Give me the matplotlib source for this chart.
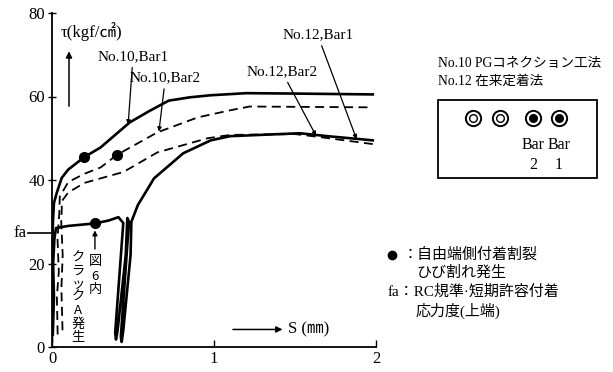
import matplotlib
matplotlib.use("Agg")
import matplotlib.pyplot as plt
from matplotlib.lines import Line2D
from matplotlib.patches import Rectangle

W, H = 613, 372
SERIF = "Liberation Serif"
JP = [SERIF, "Noto Sans CJK JP", "DejaVu Sans"]
JP_ONLY = ["Noto Sans CJK JP", "DejaVu Sans"]

# slip S (mm) / bond stress tau (kgf/cm2)
s_no10_bar1 = [0.0, 0.004, 0.0, 0.006, 0.012, 0.03, 0.06, 0.1, 0.2, 0.3, 0.48, 0.6,
               0.72, 0.85, 0.98, 1.2, 1.5, 1.98]
t_no10_bar1 = [1.5, 14, 22, 30, 34.5, 37, 40.5, 42.5, 45.5, 47.8, 53.8, 56.5,
               59, 59.8, 60.3, 60.8, 60.7, 60.5]

s_no10_bar2 = [0.035, 0.03, 0.042, 0.034, 0.045, 0.048, 0.1, 0.2, 0.3, 0.4, 0.65,
               0.9, 1.1, 1.22, 1.6, 1.98]
t_no10_bar2 = [3, 12, 18, 26, 32, 36, 39.5, 41.5, 43, 46, 51.4,
               55, 56.7, 57.6, 57.5, 57.4]

s_no12_bar1 = [0.005, 0.012, 0.007, 0.015, 0.025, 0.1, 0.265, 0.35, 0.41, 0.44,
               0.39, 0.395, 0.405, 0.455, 0.465, 0.475, 0.425, 0.43, 0.44, 0.485,
               0.49, 0.53, 0.63, 0.81, 0.98, 1.1, 1.53, 1.7, 1.98]
t_no12_bar1 = [3, 12, 20, 26, 28.5, 29, 29.6, 30.3, 31.1, 29.7,
               3.4, 1.8, 4, 22, 30.9, 30, 2.5, 1.2, 4, 22,
               30, 34, 40.4, 46.4, 49.5, 50.5, 51.2, 50.5, 49.5]

s_no12_bar2 = [0.065, 0.058, 0.066, 0.057, 0.062, 0.1, 0.2, 0.3, 0.44, 0.65,
               0.96, 1.1, 1.5, 1.63, 1.98]
t_no12_bar2 = [4, 14, 22, 30, 35, 37, 39.3, 40.4, 41.9, 46.6,
               50, 50.8, 51, 50.4, 48.6]

# splitting-crack onset points
s_crack = [0.2, 0.4, 0.265]
t_crack = [45.5, 46, 29.6]

fa_value = 27.3
y_ticks = [0, 20, 40, 60, 80]
x_ticks = [0, 1, 2]


def px(x, y):
    return x / W, 1 - y / H


fig = plt.figure(figsize=(W / 100, H / 100), dpi=100)
ax = fig.add_axes([52 / W, 1 - 347 / H, 324 / W, 334 / H])
ax.set_xlim(0, 2)
ax.set_ylim(0, 80)
for side in ("top", "right"):
    ax.spines[side].set_visible(False)
for side in ("left", "bottom"):
    ax.spines[side].set_linewidth(1.3)

ax.set_yticks(y_ticks)
ax.set_xticks(x_ticks)
ax.tick_params(axis="y", direction="inout", length=6, width=1, labelsize=12, pad=2)
ax.tick_params(axis="x", direction="in", length=5, width=1, labelsize=12, pad=3)
for lab in ax.get_xticklabels() + ax.get_yticklabels():
    lab.set_fontfamily(SERIF)

solid = dict(color="black", lw=1.9, solid_joinstyle="round")
dashed = dict(color="black", lw=1.3, dashes=(5, 3))
ax.plot(s_no10_bar1, t_no10_bar1, **solid)
ax.plot(s_no12_bar1, t_no12_bar1, **solid)
ax.plot(s_no10_bar2, t_no10_bar2, **dashed)
ax.plot(s_no12_bar2, t_no12_bar2, **dashed)
ax.plot(s_crack, t_crack, "o", color="black", ms=7, zorder=5)

# fa marker on the vertical axis
ax.plot([-0.15, 0], [fa_value, fa_value], color="black", lw=1.2, clip_on=False)
ax.text(-0.16, fa_value, "fa", ha="right", va="center", fontsize=12, family=SERIF)

# axis titles with arrows
ax.text(0.05, 75.5, "τ(kgf/㎠)", ha="left", va="center", fontsize=12, family=JP)
ax.annotate("", xy=(0.105, 71.5), xytext=(0.105, 57),
            arrowprops=dict(arrowstyle="-|>", color="black", lw=1.1, mutation_scale=9))
ax.annotate("", xy=(1.44, 4.2), xytext=(1.1, 4.2),
            arrowprops=dict(arrowstyle="-|>", color="black", lw=1.1, mutation_scale=9))
ax.text(1.455, 4.2, "S (㎜)", ha="left", va="center", fontsize=12, family=JP)

# curve labels with leaders
lead = dict(arrowstyle="-|>", color="black", lw=0.9, mutation_scale=6, shrinkA=1, shrinkB=0)
ax.annotate("No.10,Bar1", xy=(0.47, 53.3), xytext=(0.5, 69.5),
            ha="center", va="center", fontsize=11, family=SERIF, arrowprops=lead)
ax.annotate("No.10,Bar2", xy=(0.66, 51.6), xytext=(0.7, 64.4),
            ha="center", va="center", fontsize=11, family=SERIF, arrowprops=lead)
ax.annotate("No.12,Bar1", xy=(1.88, 49.8), xytext=(1.64, 74.7),
            ha="center", va="center", fontsize=11, family=SERIF, arrowprops=lead)
ax.annotate("No.12,Bar2", xy=(1.63, 50.6), xytext=(1.42, 65.9),
            ha="center", va="center", fontsize=11, family=SERIF, arrowprops=lead)

# vertical note under the crack point
ax.annotate("", xy=(0.265, 28.6), xytext=(0.265, 22.8),
            arrowprops=dict(arrowstyle="-|>", color="black", lw=1.0, mutation_scale=7))
col_right = ["図", "6", "内"]
col_left = ["ク", "ラ", "ッ", "ク", "A", "発", "生"]
for i, ch in enumerate(col_right):
    fig.text(*px(95, 262 + i * 14), ch, ha="center", va="center", fontsize=9.5,
             family=JP_ONLY)
for i, ch in enumerate(col_left):
    fig.text(*px(78, 258 + i * 13.2), ch, ha="center", va="center", fontsize=9.5,
             family=JP_ONLY)

# method names
fig.text(*px(438, 63), "No.10 PGコネクション工法", ha="left", va="center",
         fontsize=9.8, family=JP)
fig.text(*px(438, 81), "No.12 在来定着法", ha="left", va="center",
         fontsize=9.8, family=JP)

# bar arrangement box
box = Rectangle(px(438, 178), 159 / W, 78 / H, transform=fig.transFigure,
                fill=False, edgecolor="black", lw=1.3)
fig.add_artist(box)
for cx, filled in [(473, False), (500, False), (533, True), (559, True)]:
    fx, fy = px(cx, 118)
    fig.add_artist(Line2D([fx], [fy], marker="o", ms=11, mfc="white", mec="black",
                          mew=1.4, transform=fig.transFigure))
    fig.add_artist(Line2D([fx], [fy], marker="o", ms=5.5,
                          mfc="black" if filled else "white", mec="black",
                          mew=1.0, transform=fig.transFigure))
for cx, num in [(533, "2"), (559, "1")]:
    fig.text(*px(cx, 145), "Bar", ha="center", va="center", fontsize=11.5, family=SERIF)
    fig.text(*px(cx, 165), num, ha="center", va="center", fontsize=11.5, family=SERIF)

# symbol legend
fig.add_artist(Line2D([px(392, 0)[0]], [px(0, 255)[1]], marker="o", ms=6,
                      color="black", transform=fig.transFigure))
fig.text(*px(403, 255), "：自由端側付着割裂", ha="left", va="center",
         fontsize=10.8, family=JP)
fig.text(*px(416, 273), "ひび割れ発生", ha="left", va="center", fontsize=10.8, family=JP)
fig.text(*px(388, 292), "fa：RC規準·短期許容付着", ha="left", va="center",
         fontsize=10.8, family=JP)
fig.text(*px(416, 311), "応力度(上端)", ha="left", va="center", fontsize=10.8, family=JP)

fig.savefig("out.png", dpi=100)
